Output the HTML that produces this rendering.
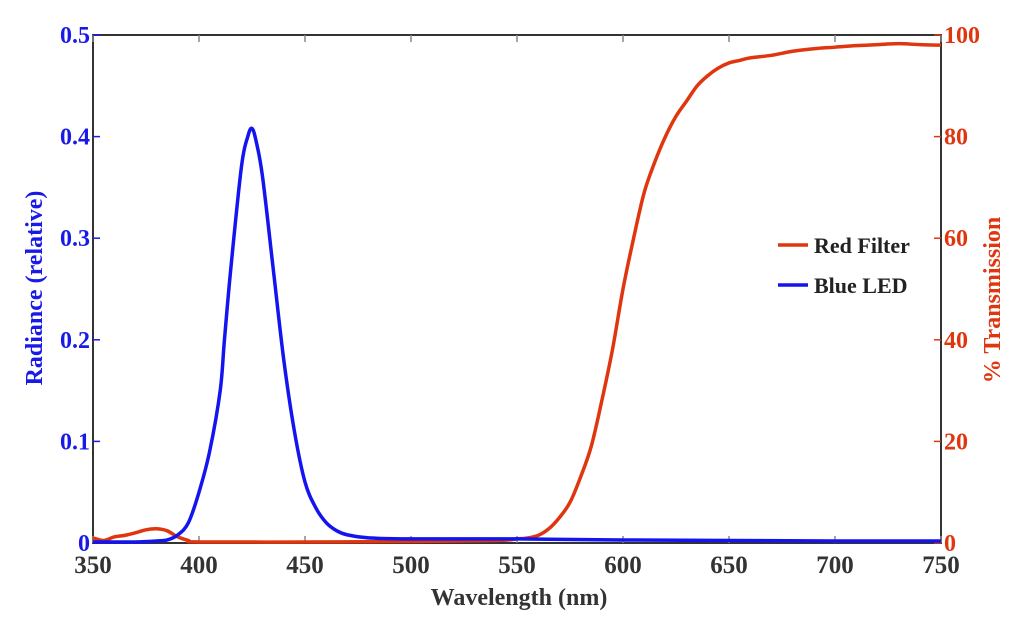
<!DOCTYPE html>
<html><head><meta charset="utf-8"><style>
body{margin:0;background:#fff}
svg text{font-family:"Liberation Serif",serif;font-weight:bold}
</style></head><body>
<svg width="1024" height="626" viewBox="0 0 1024 626">
<g id="axes"></g>
<g id="plot"></g>
<g>
<line x1="778" y1="245" x2="808" y2="245" stroke="#e0360f" stroke-width="3.5"/>
<text x="814" y="253" font-size="22" fill="#222">Red Filter</text>
<line x1="778" y1="285" x2="808" y2="285" stroke="#1414f0" stroke-width="3.5"/>
<text x="814" y="293" font-size="22" fill="#222">Blue LED</text>
</g>
<text x="519" y="605" font-size="24" fill="#333" text-anchor="middle">Wavelength (nm)</text>
<text transform="translate(42,288) rotate(-90)" font-size="24" fill="#1a1ae8" text-anchor="middle">Radiance (relative)</text>
<text transform="translate(1000,300) rotate(-90)" font-size="24" fill="#e0360f" text-anchor="middle">% Transmission</text>
</svg>
<script>
const blueWl=[350,360,370,380,385,390,395,400,405,410,412,415,420,423,425,427,430,435,440,445,450,455,460,465,470,480,500,550,600,700,750];
const blueVal=[0.001,0.001,0.001,0.002,0.003,0.008,0.02,0.05,0.09,0.15,0.2,0.27,0.37,0.4,0.408,0.395,0.36,0.27,0.18,0.11,0.06,0.035,0.02,0.012,0.008,0.005,0.004,0.004,0.003,0.002,0.002];
const redWl=[350,355,360,365,370,375,380,385,390,395,400,450,500,540,550,555,560,565,570,575,580,585,590,595,600,605,610,615,620,625,630,635,640,645,650,655,660,670,680,690,700,710,720,730,740,750];
const redVal=[1,0.5,1.2,1.5,2,2.6,2.8,2.4,1.2,0.5,0.2,0.2,0.3,0.5,0.8,1,1.5,2.8,5,8,13,19,28,38,50,60,69,75,80,84,87,90,92,93.5,94.5,95,95.5,96,96.8,97.3,97.6,97.9,98.1,98.3,98.1,98];
const xTicks=[350,400,450,500,550,600,650,700,750];
const yLeftTicks=[0,0.1,0.2,0.3,0.4,0.5];
const yLeftLabels=["0","0.1","0.2","0.3","0.4","0.5"];
const yRightTicks=[0,20,40,60,80,100];
const L=93,R=941,T=35,B=543;
const x=v=>L+(v-350)/400*(R-L);
const yl=v=>B-v/0.5*(B-T);
const yr=v=>B-v/100*(B-T);
const NS="http://www.w3.org/2000/svg";
function mk(tag,attrs,parent){const e=document.createElementNS(NS,tag);for(const k in attrs)e.setAttribute(k,attrs[k]);parent.appendChild(e);return e;}
function smooth(pts){
  let d='M'+pts[0][0]+','+pts[0][1];
  for(let i=0;i<pts.length-1;i++){
    const p0=pts[Math.max(0,i-1)],p1=pts[i],p2=pts[i+1],p3=pts[Math.min(pts.length-1,i+2)];
    const c1x=p1[0]+(p2[0]-p0[0])/6,c1y=p1[1]+(p2[1]-p0[1])/6;
    const c2x=p2[0]-(p3[0]-p1[0])/6,c2y=p2[1]-(p3[1]-p1[1])/6;
    d+=' C'+c1x+','+c1y+' '+c2x+','+c2y+' '+p2[0]+','+p2[1];
  }
  return d;
}
const ax=document.getElementById('axes'),pl=document.getElementById('plot');
const frame=mk('rect',{x:L,y:T,width:R-L,height:B-T,fill:'none',stroke:'#333','stroke-width':2},ax);


xTicks.forEach(t=>{
  const a=mk('line',{x1:x(t),x2:x(t),y1:B,y2:B-7,stroke:'#888','stroke-width':1.5},ax);
  
  
  const b=mk('line',{x1:x(t),x2:x(t),y1:T,y2:T+7,stroke:'#888','stroke-width':1.5},ax);
  
  
  const tx=mk('text',{x:x(t),y:B+30,'font-size':25,fill:'#333','text-anchor':'middle'},ax);
  tx.textContent=t;
  
  
});
yLeftTicks.forEach((t,i)=>{
  const a=mk('line',{x1:L,x2:L+7,y1:yl(t),y2:yl(t),stroke:'#1a1ae8','stroke-width':1.5},ax);
  
  
  const tx=mk('text',{x:L-3,y:yl(t)+8,'font-size':24,fill:'#1a1ae8','text-anchor':'end'},ax);
  tx.textContent=yLeftLabels[i];
  
  
});
yRightTicks.forEach(t=>{
  const a=mk('line',{x1:R,x2:R-7,y1:yr(t),y2:yr(t),stroke:'#e0360f','stroke-width':1.5},ax);
  
  
  const tx=mk('text',{x:R+3,y:yr(t)+8,'font-size':24,fill:'#e0360f','text-anchor':'start'},ax);
  tx.textContent=t;
  
  
});
const rp=mk('path',{d:smooth(redWl.map((w,i)=>[x(w),yr(redVal[i])])),fill:'none',stroke:'#e0360f','stroke-width':3.5,'stroke-linejoin':'round'},pl);


const bp=mk('path',{d:smooth(blueWl.map((w,i)=>[x(w),yl(blueVal[i])])),fill:'none',stroke:'#1414f0','stroke-width':3.5,'stroke-linejoin':'round'},pl);


</script>
</body></html>
